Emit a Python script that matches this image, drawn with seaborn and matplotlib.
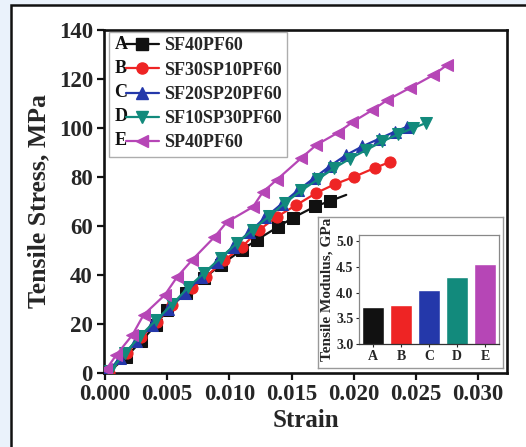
import numpy as np
import pandas as pd
import matplotlib
matplotlib.use("Agg")
import matplotlib.pyplot as plt
import seaborn as sns
from matplotlib.lines import Line2D
from matplotlib.text import Text
from matplotlib.patches import Rectangle
from matplotlib.legend_handler import HandlerBase

# ---------------- data ----------------
letters = ["A", "B", "C", "D", "E"]
names = ["SF40PF60", "SF30SP10PF60", "SF20SP20PF60", "SF10SP30PF60", "SP40PF60"]
colors = ["#111111", "#ee2424", "#2438aa", "#128a7c", "#b646b6"]
markers = ["s", "o", "^", "v", "<"]

strain_A = [0.0002, 0.0017, 0.0029, 0.0041, 0.0050, 0.0065, 0.0080, 0.0093, 0.0110, 0.0122, 0.0139, 0.0151, 0.0169, 0.0181, 0.0194]
stress_A = [0.0, 6.5, 13.0, 19.6, 25.7, 32.7, 38.8, 44.1, 50.2, 54.3, 59.6, 63.3, 68.0, 70.2, 72.7]

strain_B = [0.0003, 0.0018, 0.0029, 0.0042, 0.0054, 0.0070, 0.0081, 0.0096, 0.0110, 0.0124, 0.0138, 0.0154, 0.0170, 0.0185, 0.0200, 0.0217, 0.0229]
stress_B = [0.0, 8.2, 14.7, 20.8, 27.8, 34.7, 39.2, 46.1, 51.4, 58.4, 63.7, 68.6, 73.5, 77.1, 80.0, 83.7, 86.1]

strain_C = [0.0002, 0.0012, 0.0025, 0.0038, 0.0051, 0.0064, 0.0077, 0.0090, 0.0103, 0.0116, 0.0129, 0.0142, 0.0155, 0.0168, 0.0181, 0.0194, 0.0207, 0.0220, 0.0233, 0.0243]
stress_C = [0.5, 6.0, 13.0, 19.5, 26.0, 32.5, 39.0, 45.5, 51.5, 57.5, 63.5, 69.0, 74.5, 79.5, 84.5, 89.0, 92.5, 95.5, 98.5, 100.5]

strain_D = [0.0004, 0.0016, 0.0028, 0.0041, 0.0054, 0.0067, 0.0080, 0.0093, 0.0106, 0.0119, 0.0132, 0.0145, 0.0158, 0.0171, 0.0184, 0.0197, 0.0210, 0.0223, 0.0236, 0.0248, 0.0258]
stress_D = [1.0, 8.0, 15.0, 21.5, 28.0, 35.0, 41.0, 47.0, 53.0, 58.5, 64.0, 69.5, 74.5, 79.0, 83.5, 87.5, 91.0, 94.5, 97.5, 100.0, 102.0]

strain_E = [0.0001, 0.0009, 0.0022, 0.0031, 0.0048, 0.0058, 0.0070, 0.0088, 0.0098, 0.0119, 0.0127, 0.0138, 0.0158, 0.0170, 0.0187, 0.0199, 0.0215, 0.0227, 0.0245, 0.0264, 0.0275]
stress_E = [1.5, 7.3, 15.5, 23.7, 31.8, 39.2, 46.1, 55.5, 61.6, 67.8, 73.9, 78.8, 87.8, 93.1, 98.0, 102.4, 107.3, 111.4, 116.3, 121.6, 125.7]

modulus = [3.72, 3.76, 4.06, 4.31, 4.55]

x_ticks = [0.000, 0.005, 0.010, 0.015, 0.020, 0.025, 0.030]
y_ticks = [0, 20, 40, 60, 80, 100, 120, 140]
inset_ticks = [3.0, 3.5, 4.0, 4.5, 5.0]

series = [(strain_A, stress_A), (strain_B, stress_B), (strain_C, stress_C),
          (strain_D, stress_D), (strain_E, stress_E)]

# ---------------- style ----------------
sns.set_style("ticks")
plt.rcParams["font.family"] = ["Liberation Serif", "DejaVu Serif"]
plt.rcParams["font.weight"] = "bold"
plt.rcParams["axes.labelweight"] = "bold"

W, H = 526, 447
fig = plt.figure(figsize=(W / 100, H / 100), dpi=100)
fig.patch.set_facecolor("#eaf2fb")

def fbox(x0, y0, x1, y1):
    return [x0 / W, 1 - y1 / H, (x1 - x0) / W, (y1 - y0) / H]

# outer frame
frame = Rectangle((11 / W, -0.05), 1.1, 1 - 5 / H + 0.05, transform=fig.transFigure,
                  facecolor="white", edgecolor="#111111", linewidth=1.8, zorder=-10)
fig.patches.append(frame)

ax = fig.add_axes(fbox(104, 30, 507, 373))
ax.set_zorder(1)
ax.set_facecolor("white")

for i, (sx, sy) in enumerate(series):
    kw = {}
    if i == 0:
        kw["markevery"] = list(range(len(sx) - 1))
    sns.lineplot(x=sx, y=sy, ax=ax, color=colors[i], marker=markers[i],
                 markersize=8, markeredgecolor=colors[i], linewidth=1.6,
                 sort=False, estimator=None, zorder=3 + i, **kw)

ax.set_xlim(-0.00008, 0.03233)
ax.set_ylim(0, 140)
ax.set_xticks(x_ticks)
ax.set_xticklabels([f"{v:.3f}" for v in x_ticks])
ax.set_yticks(y_ticks)
ax.set_yticklabels([str(v) for v in y_ticks])
ax.tick_params(axis="both", which="major", labelsize=16.5, length=5, width=1.6,
               direction="out", pad=3, color="#111111")
for lab in ax.get_xticklabels() + ax.get_yticklabels():
    lab.set_fontweight("bold")
for sp in ax.spines.values():
    sp.set_visible(True)
    sp.set_linewidth(1.9)
    sp.set_color("#111111")
ax.set_xlabel("Strain", fontsize=18, fontweight="bold", labelpad=3)
ax.set_ylabel("Tensile Stress, MPa", fontsize=18.5, fontweight="bold", labelpad=6)

# ---------------- legend ----------------
class LetterHandler(HandlerBase):
    def __init__(self, letter):
        super().__init__()
        self.letter = letter

    def create_artists(self, legend, orig_handle, xdescent, ydescent, width,
                       height, fontsize, trans):
        ym = (height - ydescent) / 2
        t = Text(-xdescent, ym, self.letter, fontsize=fontsize, fontweight="bold",
                 family="Liberation Serif", va="center", ha="left",
                 color="#111111", transform=trans)
        x0 = -xdescent + fontsize * 0.62
        x1 = -xdescent + width
        ln = Line2D([x0, x1], [ym, ym], color=orig_handle.get_color(), lw=1.6,
                    transform=trans)
        mk = Line2D([(x0 + x1) / 2], [ym], color=orig_handle.get_color(),
                    marker=orig_handle.get_marker(), markersize=8, linestyle="",
                    transform=trans)
        return [t, ln, mk]

proxies = [Line2D([], [], color=c, marker=m) for c, m in zip(colors, markers)]
hmap = {p: LetterHandler(l) for p, l in zip(proxies, letters)}
leg = ax.legend(proxies, names, handler_map=hmap, loc="upper left",
                bbox_to_anchor=(109 / W, 1 - 32 / H), bbox_transform=fig.transFigure,
                prop={"family": "Liberation Serif", "weight": "bold", "size": 13},
                handlelength=2.45, handletextpad=0.3, labelspacing=0.4,
                borderpad=0.3, borderaxespad=0, frameon=True, fancybox=False)
leg.get_frame().set_edgecolor("#999999")
leg.get_frame().set_linewidth(1.0)
leg.set_zorder(20)

# ---------------- inset ----------------
box = fig.add_axes(fbox(318, 217, 503, 368))
box.set_facecolor("white")
box.set_xticks([])
box.set_yticks([])
for sp in box.spines.values():
    sp.set_color("#999999")
    sp.set_linewidth(1.0)
box.set_zorder(10)

ins = fig.add_axes(fbox(359, 235, 499, 344))
ins.set_zorder(11)
df = pd.DataFrame({"cat": letters, "mod": modulus})
sns.barplot(data=df, x="cat", y="mod", hue="cat", palette=colors, legend=False,
            ax=ins, width=0.8, saturation=1.0)
ins.set_ylim(3.0, 5.12)
ins.set_xlim(-0.5, 4.5)
ins.set_yticks(inset_ticks)
ins.set_yticklabels([f"{v:.1f}" for v in inset_ticks])
ins.tick_params(axis="both", labelsize=10, length=2.5, width=0.8, pad=1.5)
for lab in ins.get_xticklabels() + ins.get_yticklabels():
    lab.set_fontweight("bold")
ins.set_xlabel("")
ins.set_ylabel("Tensile Modulus, GPa", fontsize=11, fontweight="bold", labelpad=2)
for k, sp in ins.spines.items():
    sp.set_color("#888888" if k != "bottom" else "#333333")
    sp.set_linewidth(0.9)

fig.savefig("out.png", dpi=100, facecolor=fig.get_facecolor())
